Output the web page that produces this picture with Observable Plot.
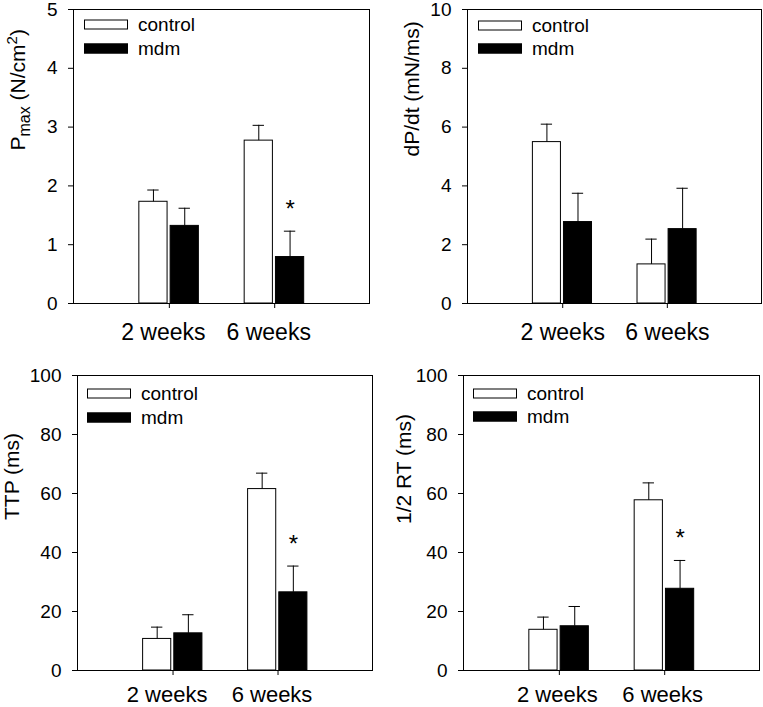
<!DOCTYPE html>
<html><head><meta charset="utf-8">
<script src="https://cdn.jsdelivr.net/npm/d3@7"></script>
<script src="https://cdn.jsdelivr.net/npm/@observablehq/plot@0.6"></script>
<style>
html,body{margin:0;padding:0;background:#fff;}
#root{position:relative;width:763px;height:707px;overflow:hidden;font-family:"Liberation Sans",Arial,sans-serif;}
.panel{position:absolute;}
.row{position:absolute;display:flex;align-items:center;font-size:19px;line-height:1;color:#000;white-space:nowrap;}
.sw{width:44px;height:10px;box-sizing:border-box;border:1px solid #000;margin-right:10px;}
</style></head><body><div id="root"></div>
<script>
// ---- data ----
const groups = ["2 weeks", "6 weeks"];
const seriesNames = ["control", "mdm"];

const pmaxControl = [1.73, 2.77];
const pmaxControlSem = [0.20, 0.26];
const pmaxMdm = [1.32, 0.79];
const pmaxMdmSem = [0.30, 0.44];
const pmaxMdmSig = [false, true];

const dpdtControl = [5.49, 1.33];
const dpdtControlSem = [0.61, 0.86];
const dpdtMdm = [2.77, 2.53];
const dpdtMdmSem = [0.98, 1.39];
const dpdtMdmSig = [false, false];

const ttpControl = [10.7, 61.5];
const ttpControlSem = [4.0, 5.4];
const ttpMdm = [12.6, 26.5];
const ttpMdmSem = [6.3, 8.9];
const ttpMdmSig = [false, true];

const rtControl = [13.8, 57.7];
const rtControlSem = [4.3, 5.9];
const rtMdm = [15.0, 27.7];
const rtMdmSem = [6.7, 9.6];
const rtMdmSig = [false, true];

const yLabels = ["Pmax (N/cm2)", "dP/dt (mN/ms)", "TTP (ms)", "1/2 RT (ms)"];
const yTicks1 = [0, 1, 2, 3, 4, 5];
const yTicks2 = [0, 2, 4, 6, 8, 10];
const yTicks3 = [0, 20, 40, 60, 80, 100];
const yTicks4 = [0, 20, 40, 60, 80, 100];

const seriesFill = ["#ffffff", "#000000"];

function makeRows(ctrl, ctrlSem, mdm, mdmSem, sig) {
  const rows = [];
  groups.forEach((g, i) => {
    rows.push({group: g, gi: i + 1, series: seriesNames[0], si: 0, mean: ctrl[i], sem: ctrlSem[i], sig: false});
    rows.push({group: g, gi: i + 1, series: seriesNames[1], si: 1, mean: mdm[i], sem: mdmSem[i], sig: sig[i]});
  });
  return rows;
}

const panels = [
  {rows: makeRows(pmaxControl, pmaxControlSem, pmaxMdm, pmaxMdmSem, pmaxMdmSig), label: yLabels[0], yDomain: [0, 5], yTicks: yTicks1,
   left: 0, top: 0, width: 381, height: 350, ml: 73, mr: 12, mt: 9, mb: 47, xPad: 20, xFs: 23, xdx: -6, labelDx: -55, labelDy: -6, legX: 84, legY: [19, 43]},
  {rows: makeRows(dpdtControl, dpdtControlSem, dpdtMdm, dpdtMdmSem, dpdtMdmSig), label: yLabels[1], yDomain: [0, 10], yTicks: yTicks2,
   left: 381, top: 0, width: 382, height: 350, ml: 86, mr: 2, mt: 9, mb: 47, xPad: 20, xFs: 23, xdx: 0, labelDx: -55, labelDy: 0, legX: 97, legY: [20, 43]},
  {rows: makeRows(ttpControl, ttpControlSem, ttpMdm, ttpMdmSem, ttpMdmSig), label: yLabels[2], yDomain: [0, 100], yTicks: yTicks3,
   left: 0, top: 350, width: 381, height: 357, ml: 77, mr: 9, mt: 25, mb: 37, xPad: 16, xFs: 22, xdx: -6, labelDx: -65, labelDy: -3, legX: 87, legY: [38, 62]},
  {rows: makeRows(rtControl, rtControlSem, rtMdm, rtMdmSem, rtMdmSig), label: yLabels[3], yDomain: [0, 100], yTicks: yTicks4,
   left: 381, top: 350, width: 382, height: 357, ml: 82, mr: 4, mt: 25, mb: 37, xPad: 16, xFs: 22, xdx: -2, labelDx: -59, labelDy: 1, legX: 92, legY: [38, 61]}
];

const off = [-0.151, 0.146];
const half = 0.134;
const cap = 0.054;
const cx = d => d.gi + off[d.si];

const root = document.getElementById("root");

panels.forEach(p => {
  const rows = p.rows;
  const svg = Plot.plot({
    width: p.width, height: p.height,
    marginLeft: p.ml, marginRight: p.mr, marginTop: p.mt, marginBottom: p.mb,
    style: {fontFamily: '"Liberation Sans", Arial, sans-serif', color: "#000", background: "transparent", overflow: "visible"},
    x: {domain: [0.09, 2.9]},
    y: {domain: p.yDomain},
    marks: [
      Plot.rectY(rows, {x1: d => cx(d) - half, x2: d => cx(d) + half, y1: 0, y2: "mean", fill: d => seriesFill[d.si], stroke: "#000", strokeWidth: 1}),
      Plot.ruleX(rows, {x: cx, y1: "mean", y2: d => d.mean + d.sem, stroke: "#000", strokeWidth: 1}),
      Plot.ruleY(rows, {y: d => d.mean + d.sem, x1: d => cx(d) - cap, x2: d => cx(d) + cap, stroke: "#000", strokeWidth: 1}),
      Plot.text(rows.filter(d => d.sig), {x: cx, y: d => d.mean + d.sem, text: () => "*", fontSize: 24, dy: -22}),
      Plot.frame({stroke: "#000", strokeWidth: 1}),
      Plot.axisY({ticks: p.yTicks, tickFormat: d => String(d), tickSize: 5, tickPadding: 11, fontSize: 19, label: null}),
      Plot.axisX({ticks: [1, 2], tickFormat: () => "", tickSize: 5, label: null}),
      Plot.axisX({ticks: [1, 2], tickFormat: d => groups[d - 1], tickSize: 0, tickPadding: p.xPad, fontSize: p.xFs, label: null, dx: p.xdx}),
      Plot.text([p.label], {frameAnchor: "left", text: d => d, rotate: -90, dx: p.labelDx, dy: p.labelDy, fontSize: 21})
    ]
  });
  // subscript / superscript in the Pmax label
  svg.querySelectorAll("text").forEach(t => {
    if (t.textContent === "Pmax (N/cm2)") {
      t.textContent = "";
      const ns = "http://www.w3.org/2000/svg";
      const parts = [["P", null, null], ["max", 5, 16], [" (N/cm", -5, null], ["2", -8, 15], [")", 8, null]];
      parts.forEach(([s, dy, fs]) => {
        const ts = document.createElementNS(ns, "tspan");
        ts.textContent = s;
        if (dy != null) ts.setAttribute("dy", dy);
        if (fs != null) ts.setAttribute("font-size", fs);
        t.appendChild(ts);
      });
    }
  });
  const div = document.createElement("div");
  div.className = "panel";
  div.style.left = p.left + "px";
  div.style.top = p.top + "px";
  div.style.width = p.width + "px";
  div.style.height = p.height + "px";
  div.appendChild(svg);
  // legend
  seriesNames.forEach((name, i) => {
    const row = document.createElement("div");
    row.className = "row";
    row.style.left = p.legX + "px";
    row.style.top = (p.legY[i] + 5) + "px";
    row.style.transform = "translateY(-50%)";
    const sw = document.createElement("div");
    sw.className = "sw";
    sw.style.background = seriesFill[i];
    const lab = document.createElement("span");
    lab.textContent = name;
    row.appendChild(sw);
    row.appendChild(lab);
    div.appendChild(row);
  });
  root.appendChild(div);
});
</script>
</body></html>
